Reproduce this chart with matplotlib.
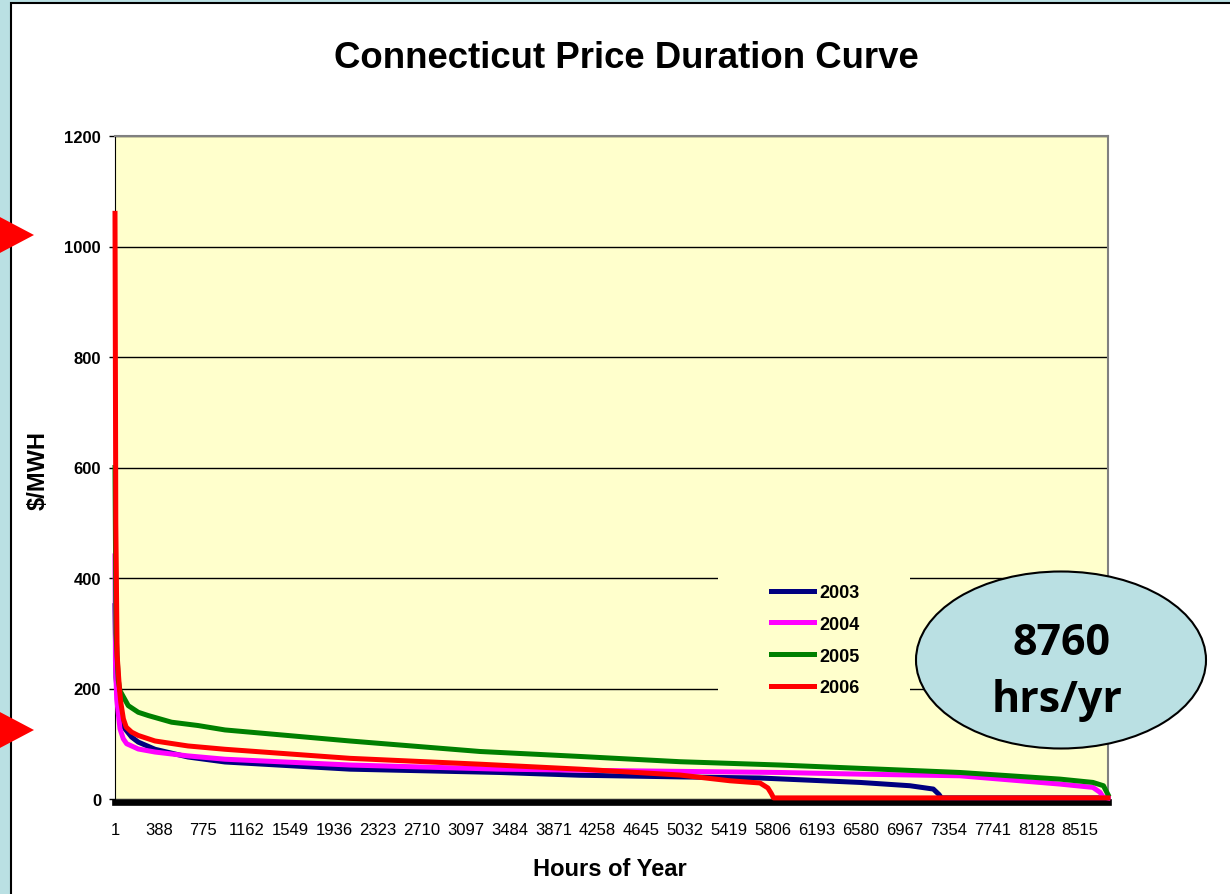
import matplotlib
matplotlib.use('Agg')
import matplotlib.pyplot as plt
from matplotlib.patches import Rectangle, Ellipse, Polygon

plt.rcParams['font.family'] = ['Liberation Sans', 'DejaVu Sans']

# values (hour of year, $/MWH)
years = ['2003', '2004', '2005', '2006']
colors = ['#000080', '#FF00FF', '#008000', '#FF0000']

hours_2003 = [1, 10, 30, 60, 89, 148, 206, 354, 645, 971, 2074, 3397, 4102, 4984, 5690, 6572, 7013, 7219, 7270, 7290, 8760]
price_2003 = [350, 220, 169, 139, 127, 112, 103, 90, 76, 67, 54, 48, 43, 40, 38, 30, 24, 18, 8, 2, 2]

hours_2004 = [1, 5, 16, 45, 74, 104, 206, 354, 645, 971, 2074, 3397, 4543, 5866, 6572, 7454, 8336, 8627, 8690, 8715, 8760]
price_2004 = [440, 250, 181, 127, 109, 100, 90.5, 85, 78, 72, 61.5, 54, 51, 48, 45, 42, 27, 21, 12, 4, 2]

hours_2005 = [1, 10, 30, 45, 118, 206, 295, 500, 733, 971, 2074, 3220, 4102, 4984, 5866, 6572, 7454, 8336, 8627, 8720, 8760]
price_2005 = [600, 300, 215, 196, 169, 157, 151, 139, 133, 125, 105, 86, 77, 67.5, 61.5, 55.5, 48, 36, 30, 24, 8]

hours_2006 = [1, 8, 20, 40, 52, 75, 100, 148, 206, 354, 645, 971, 2074, 3220, 4102, 4984, 5425, 5690, 5760, 5790, 5810, 8760]
price_2006 = [1060, 500, 260, 200, 175, 145, 130, 121, 115, 105, 96, 90, 73.6, 63, 54, 43.4, 33, 29, 20, 10, 2, 2]

tick_hours = list(range(1, 8760, 387))
y_ticks = [0, 200, 400, 600, 800, 1000, 1200]

W, H = 1230, 895


def fx(x):
    return x / W


def fy(y):
    return 1 - y / H


fig = plt.figure(figsize=(12.3, 8.95), dpi=100, facecolor='#BAE0E3')

# white slide panel with black border
panel = Rectangle((fx(11), fy(920)), 1.2, fy(4) - fy(920), transform=fig.transFigure,
                  facecolor='white', edgecolor='black', lw=1.5, zorder=-1)
fig.add_artist(panel)

ax = fig.add_axes([fx(115), fy(800), fx(1108) - fx(115), fy(137) - fy(800)])
ax.set_facecolor('#FFFFCC')

series = [(hours_2003, price_2003), (hours_2004, price_2004),
          (hours_2005, price_2005), (hours_2006, price_2006)]
handles = []
for (hrs, vals), yr, col in zip(series, years, colors):
    ln, = ax.plot(hrs, vals, color=col, lw=3.6, label=yr, zorder=3,
                  clip_on=False, solid_joinstyle='round')
    handles.append(ln)

ax.set_xlim(1, 8760)
ax.set_ylim(0, 1200)
ax.set_yticks(y_ticks)
ax.set_yticklabels([str(v) for v in y_ticks], fontweight='bold')
ax.set_xticks(tick_hours)
ax.set_xticklabels([str(h) for h in tick_hours])
ax.tick_params(axis='x', length=0, pad=14, labelsize=12)
ax.tick_params(axis='y', length=4, width=1, direction='out', pad=6, labelsize=12)
ax.yaxis.grid(True, color='black', lw=1)
ax.set_axisbelow(True)

ax.spines['left'].set_color('black')
ax.spines['top'].set_color('#808080')
ax.spines['right'].set_color('#808080')
ax.spines['top'].set_linewidth(1.5)
ax.spines['right'].set_linewidth(1.5)
ax.spines['bottom'].set_linewidth(4.8)
ax.spines['bottom'].set_position(('outward', 2.4))

# legend background and legend
fig.add_artist(Rectangle((fx(718), fy(700)), fx(910) - fx(718), fy(578) - fy(700),
                         transform=fig.transFigure, facecolor='#FFFFCC',
                         edgecolor='none', zorder=1))
fig.legend(handles, years, loc='upper left', bbox_to_anchor=(fx(771), fy(585)),
           frameon=False, prop=dict(weight='bold', size=13), handlelength=2.4,
           handletextpad=0.3, labelspacing=0.82, borderpad=0, borderaxespad=0)

# callout ellipse
fig.add_artist(Ellipse((fx(1061), fy(661)), fx(290), 177 / H, transform=fig.transFigure,
                       facecolor='#BAE0E3', edgecolor='black', lw=1.5, zorder=2))
fig.text(fx(1061), fy(655), '8760', ha='center', va='baseline', fontsize=31,
         fontweight='bold', family=['Open Sans', 'DejaVu Sans'], zorder=3)
fig.text(fx(1057), fy(712), 'hrs/yr', ha='center', va='baseline', fontsize=31,
         fontweight='bold', family=['Open Sans', 'DejaVu Sans'], zorder=3)

# red pointer triangles on the left edge
for c in [236, 731]:
    fig.add_artist(Polygon([(fx(-2), fy(c - 19)), (fx(-2), fy(c + 19)), (fx(34), fy(c))],
                           closed=True, transform=fig.transFigure,
                           facecolor='#FF0000', edgecolor='none', zorder=4))

fig.text(fx(626), fy(58), 'Connecticut Price Duration Curve', ha='center', va='center',
         fontsize=26.4, fontweight='bold')
fig.text(fx(610), fy(870), 'Hours of Year', ha='center', va='center',
         fontsize=17, fontweight='bold')
fig.text(fx(38), fy(471), '$/MWH', ha='center', va='center', rotation=90,
         fontsize=17, fontweight='bold')

fig.savefig('out.png', dpi=100, facecolor=fig.get_facecolor())
